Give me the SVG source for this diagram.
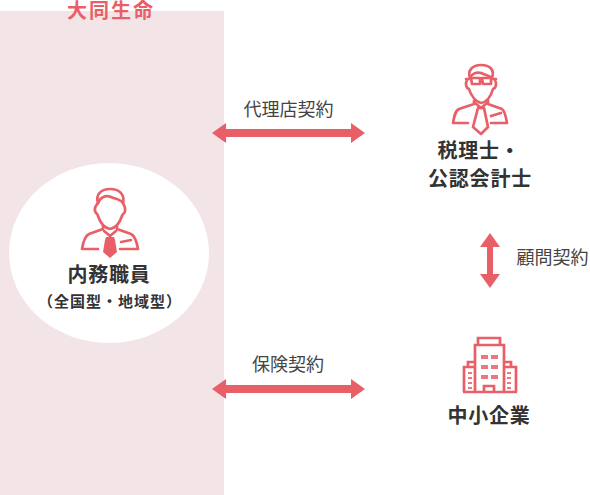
<svg xmlns="http://www.w3.org/2000/svg" width="590" height="495" viewBox="0 0 590 495">
<style>
text{font-family:"Noto Sans CJK JP","Noto Sans",sans-serif;fill:#333}
.b{font-weight:700;font-size:20px;text-anchor:middle;letter-spacing:.8px}
.l{font-size:18px;text-anchor:middle;fill:#444;font-weight:400}
.i{fill:none;stroke:#e95f68;stroke-width:2.7;stroke-linejoin:round;stroke-linecap:round}
.f{fill:#e95f68}
</style>
<rect x="0" y="11" width="224" height="484" fill="#f3e5e7"/>
<g id="header"><text x="111" y="18" text-anchor="middle" style="font-weight:700;font-size:20px;letter-spacing:2px;fill:#e95f68">大同生命</text></g>
<g id="staff">
<ellipse cx="109" cy="253" rx="100" ry="90" fill="#fff"/>
<g class="i">
<path d="M98 203C95 194 102 189 110 189C119 189 125 194 123 203"/>
<path d="M98 203C100 197 106 195 111 197C115 199 120 199 123 203"/>
<path d="M98 203C96 206 94 207 95 211C96 214 98 214 98 216C100 222 104 228 110 229C116 228 120 222 122 216C122 214 125 214 125 211C126 207 124 206 123 203"/>
<path d="M103 226V229L89 234C85 236 83 243 82 249H98"/>
<path d="M117 226V229L131 234C135 236 137 243 138 249H120"/>
<path d="M104 231L110 236L116 231"/>
<path d="M121 242L131 240"/>
</g>
<path class="f" d="M106 237H114L115 240L117 252L110 258L103 252L105 240Z"/>
<text class="b" x="109" y="282">内務職員</text>
<text x="110" y="307" text-anchor="middle" style="font-weight:700;font-size:15px;letter-spacing:1px">（全国型・地域型）</text>
</g>
<g id="tax">
<g class="i">
<path d="M470 78C467 70 473 65 481 65C490 65 495 70 492 78"/>
<path d="M470 78C472 73 477 72 481 73C485 75 489 75 492 78"/>
<path d="M471 78H480V84H472ZM482 78H491V84H483ZM480 79H482M471 79H466M491 79H496"/>
<path d="M467 80C465 84 466 88 469 89C471 96 476 102 481 103C487 102 491 96 493 89C496 88 497 84 495 80"/>
<path d="M474 101V104L459 109C455 111 454 117 453 123H468"/>
<path d="M488 101V104L502 109C505 111 506 117 507 123H491"/>
<path d="M475 103L481 108L487 103"/>
<path d="M478 108H484L488 127L481 134L473 127Z"/>
<path d="M491 116L501 113"/>
</g>
<text class="b" x="479" y="158">税理士・</text>
<text class="b" x="480" y="186">公認会計士</text>
</g>
<g id="company">
<g class="i" style="stroke-linecap:butt;stroke-linejoin:miter">
<path d="M478 345V338H500V345"/>
<path d="M475 392V345H504V392"/>
<path d="M475 362H468V367M504 362H511V367"/>
<path d="M464 392V367H475M516 392V367H504"/>
<path d="M463 392H517"/>
<path d="M484 392V386H494V392"/>
</g>
<path class="f" opacity=".85" d="M481 355h7v4h-7zM491 355h7v4h-7zM481 365h7v4h-7zM491 365h7v4h-7zM481 375h7v4h-7zM491 375h7v4h-7zM468 372h4v2h-4zM468 377h4v2h-4zM468 382h4v2h-4zM468 387h4v2h-4zM507 372h4v2h-4zM507 377h4v2h-4zM507 382h4v2h-4zM507 387h4v2h-4z"/>
<text class="b" x="489" y="423">中小企業</text>
</g>
<g id="connectors">
<path class="f" d="M212 133L226 123V129H351V123L365 133L351 143V137H226V143Z"/>
<path class="f" d="M212 389L226 379V385H351V379L365 389L351 399V393H226V399Z"/>
<path class="f" d="M490 233L500 247H493V274H500L490 288L480 274H487V247H480Z"/>
</g>
<text class="l" x="288.5" y="116">代理店契約</text>
<text class="l" x="288" y="371">保険契約</text>
<text class="l" x="552.5" y="264">顧問契約</text>
</svg>
